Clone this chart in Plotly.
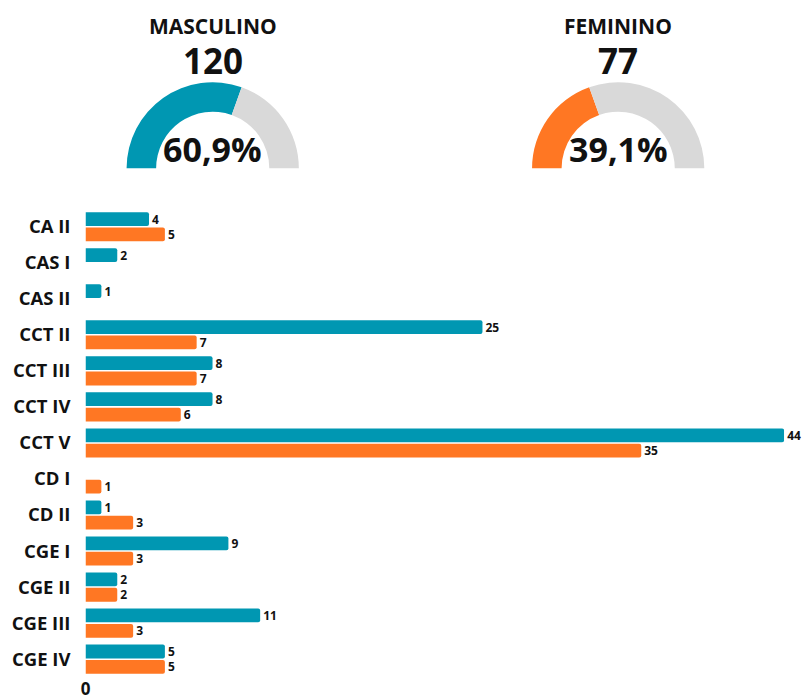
import plotly.graph_objects as go

categories = ["CA II", "CAS I", "CAS II", "CCT II", "CCT III", "CCT IV", "CCT V",
              "CD I", "CD II", "CGE I", "CGE II", "CGE III", "CGE IV"]
masculino = [4, 2, 1, 25, 8, 8, 44, 0, 1, 9, 2, 11, 5]
feminino = [5, 0, 0, 7, 7, 6, 35, 1, 3, 3, 2, 3, 5]
gauge_titles = ["MASCULINO", "FEMININO"]

TEAL = "#0097B2"
ORANGE = "#FF7723"
GRAY = "#D9D9D9"
FONT = "Open Sans"
W, H = 808, 700

tot_m = sum(masculino)
tot_f = sum(feminino)
tot = tot_m + tot_f

fig = go.Figure()

def px_x(v):
    return v / W

def px_y(v):
    return 1 - v / H

for vals, col, name in [(masculino, TEAL, "Masculino"), (feminino, ORANGE, "Feminino")]:
    fig.add_trace(go.Bar(
        y=categories, x=vals, orientation="h", name=name,
        marker=dict(color=col, line=dict(width=0)),
        text=[str(v) if v else "" for v in vals], textposition="outside",
        textfont=dict(family=FONT, size=12, color="#111111", weight=700),
        constraintext="none", cliponaxis=False, hoverinfo="skip",
    ))

gauges = [
    (tot_m, TEAL, 209.0),
    (tot_f, ORANGE, 617.0),
]
R = 87.5
cy = 171
for (val, col, cx) in gauges:
    fig.add_trace(go.Pie(
        values=[val, tot - val, tot], sort=False, direction="clockwise",
        rotation=270, hole=0.657,
        marker=dict(colors=[col, GRAY, "rgba(0,0,0,0)"], line=dict(width=0)),
        textinfo="none", hoverinfo="skip", showlegend=False,
        domain=dict(x=[px_x(cx - R), px_x(cx + R)], y=[px_y(cy + R), px_y(cy - R)]),
    ))

annotations = []
for (title, (val, col, cx)) in zip(gauge_titles, gauges):
    pct = f"{100 * val / tot:.1f}%".replace(".", ",")
    annotations.append(dict(text=title, x=px_x(cx), y=px_y(26.5), xref="paper", yref="paper",
                            showarrow=False, xanchor="center", yanchor="middle",
                            font=dict(family=FONT, size=21, color="#111111", weight=700)))
    annotations.append(dict(text=str(val), x=px_x(cx), y=px_y(61.5), xref="paper", yref="paper",
                            showarrow=False, xanchor="center", yanchor="middle",
                            font=dict(family=FONT, size=35, color="#111111", weight=700)))
    annotations.append(dict(text=pct, x=px_x(cx), y=px_y(151), xref="paper", yref="paper",
                            showarrow=False, xanchor="center", yanchor="middle",
                            font=dict(family=FONT, size=34, color="#111111", weight=700)))

fig.update_layout(
    width=W, height=H,
    margin=dict(l=0, r=0, t=0, b=0),
    paper_bgcolor="white", plot_bgcolor="white",
    showlegend=False,
    barmode="group", bargap=0.15, bargroupgap=0.1, barcornerradius=2,
    annotations=annotations,
    xaxis=dict(domain=[px_x(81), px_x(784)], range=[0, 44], tickvals=[0], ticktext=["0"],
               showgrid=False, zeroline=False, showline=False, ticks="",
               tickfont=dict(family=FONT, size=17, color="#111111", weight=700)),
    yaxis=dict(domain=[px_y(688), px_y(212)], autorange="reversed",
               categoryorder="array", categoryarray=categories,
               showgrid=False, zeroline=False, showline=False, ticks="",
               ticklabelstandoff=14,
               tickfont=dict(family=FONT, size=18.5, color="#111111", weight=700)),
)

fig.write_html("out.html", config={"displayModeBar": False},
               post_script="document.body.style.margin='0';document.body.style.overflow='hidden';")
